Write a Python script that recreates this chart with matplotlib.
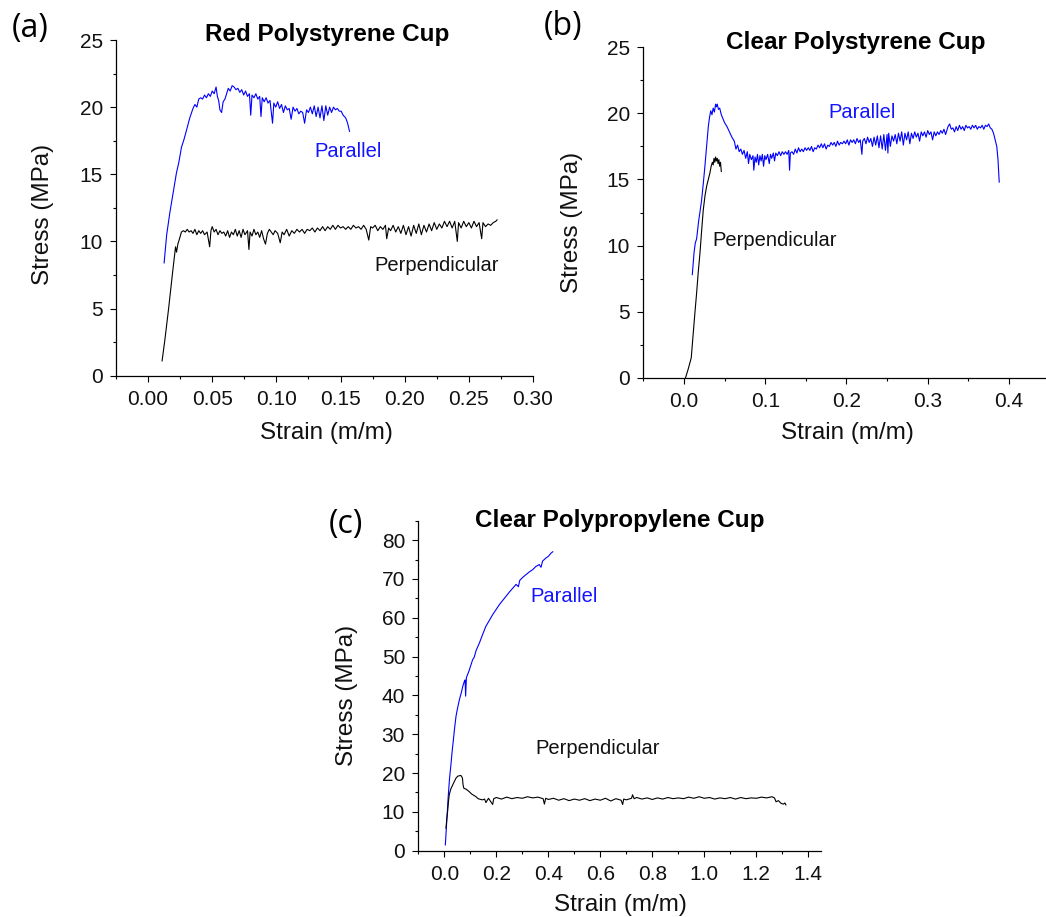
import matplotlib
matplotlib.use("Agg")
import matplotlib.pyplot as plt
from matplotlib.ticker import MultipleLocator, FormatStrFormatter

plt.rcParams['font.family'] = ['Liberation Sans', 'DejaVu Sans']

# ---------------- data ----------------
# (a) Red Polystyrene Cup
a_par_strain = [0.0125,0.0145,0.0169,0.0195,0.0221,0.0240,0.0260,0.0280,0.0300,0.0325,0.0350,0.0365,0.0380,0.0395,
                0.0410,0.0425,0.0440,0.0455,0.0470,0.0485,0.0500,0.0515,0.0530,0.0540,0.0550,0.0560,0.0573,0.0585,
                0.0599,0.0612,0.0625,0.0640,0.0655,0.0670,0.0685,0.0700,0.0715,0.0730,0.0745,0.0760,0.0775,0.0790,
                0.0800,0.0810,0.0825,0.0840,0.0855,0.0870,0.0880,0.0890,0.0905,0.0920,0.0935,0.0950,0.0970,0.0980,
                0.0995,0.1010,0.1025,0.1040,0.1055,0.1070,0.1085,0.1100,0.1115,0.1130,0.1145,0.1160,0.1175,0.1190,
                0.1205,0.1220,0.1235,0.1250,0.1265,0.1280,0.1295,0.1310,0.1325,0.1340,0.1355,0.1370,0.1385,0.1400,
                0.1415,0.1430,0.1445,0.1460,0.1475,0.1490,0.1505,0.1520,0.1540,0.1555,0.1570]
a_par_stress = [8.4,10.5,12.1,13.6,15.1,15.9,17.0,17.6,18.3,19.2,19.9,20.2,20.0,20.6,
                20.7,20.6,20.9,20.7,21.0,20.8,21.2,21.0,21.5,20.8,20.5,19.8,19.6,20.4,
                20.6,21.0,21.4,21.2,21.6,21.5,21.3,21.4,21.1,21.3,20.9,21.2,20.8,21.0,
                19.4,20.9,20.7,21.0,20.6,20.8,19.3,20.7,20.4,20.7,20.3,20.5,18.8,20.3,
                20.0,20.4,19.9,20.2,19.6,20.1,19.8,19.9,19.1,20.0,19.7,19.9,19.5,19.7,
                19.6,18.8,19.8,19.6,20.0,19.5,20.1,19.3,20.0,19.2,20.1,19.0,20.1,19.4,
                20.0,19.6,20.0,19.8,19.9,19.7,19.7,19.4,19.2,18.8,18.2]

a_perp_strain = [0.0109,0.0130,0.0160,0.0190,0.0214,0.0222,0.0232,0.0245,0.0260,0.0275,0.0290,0.0305,0.0320,0.0335,
                 0.0350,0.0365,0.0380,0.0395,0.0410,0.0425,0.0440,0.0460,0.0480,0.0490,0.0500,0.0515,0.0530,0.0545,
                 0.0560,0.0575,0.0590,0.0605,0.0620,0.0635,0.0650,0.0665,0.0680,0.0695,0.0710,0.0725,0.0740,0.0755,
                 0.0775,0.0786,0.0795,0.0810,0.0825,0.0840,0.0855,0.0870,0.0885,0.0900,0.0915,0.0930,0.0945,0.0960,
                 0.0975,0.0990,0.1010,0.1030,0.1045,0.1060,0.1080,0.1100,0.1120,0.1140,0.1160,0.1180,0.1200,0.1220,
                 0.1240,0.1260,0.1280,0.1300,0.1320,0.1340,0.1360,0.1380,0.1400,0.1420,0.1440,0.1460,0.1480,0.1500,
                 0.1520,0.1540,0.1560,0.1580,0.1600,0.1620,0.1640,0.1660,0.1680,0.1700,0.1720,0.1735,0.1750,0.1770,
                 0.1790,0.1810,0.1830,0.1850,0.1860,0.1875,0.1890,0.1910,0.1930,0.1950,0.1970,0.1990,0.2010,0.2030,
                 0.2050,0.2070,0.2090,0.2110,0.2130,0.2150,0.2170,0.2190,0.2210,0.2230,0.2250,0.2270,0.2290,0.2310,
                 0.2330,0.2350,0.2370,0.2390,0.2410,0.2420,0.2440,0.2460,0.2480,0.2500,0.2520,0.2540,0.2560,0.2580,
                 0.2600,0.2610,0.2630,0.2650,0.2670,0.2690,0.2710,0.2720]
a_perp_stress = [1.1,2.6,5.0,7.6,9.6,9.2,9.8,10.2,10.7,10.8,10.7,10.9,10.7,10.8,
                 10.6,10.9,10.5,10.8,10.6,10.8,10.5,10.7,9.6,10.8,11.1,10.7,10.9,10.5,
                 10.8,10.6,10.7,10.4,10.8,10.3,10.7,10.5,10.9,10.4,10.8,10.3,10.9,10.5,
                 10.8,9.4,10.7,10.4,10.9,10.5,10.7,10.3,10.8,10.2,9.8,10.6,10.9,10.7,
                 10.5,10.8,10.6,9.9,10.7,10.5,10.9,10.4,10.8,10.6,10.9,10.7,10.9,10.6,
                 10.9,10.8,11.0,10.7,11.0,10.8,11.1,10.8,11.1,10.9,11.2,10.9,11.2,11.0,
                 11.1,10.9,11.1,10.9,11.2,11.0,11.1,10.9,11.2,10.9,10.1,11.1,11.0,11.2,
                 10.8,11.1,10.9,11.2,10.2,11.0,10.8,11.2,10.7,11.1,10.6,11.2,10.5,11.1,
                 10.4,11.2,10.6,11.3,10.5,11.2,10.7,11.3,10.8,11.4,10.9,11.3,11.0,11.5,
                 11.1,11.5,11.0,11.5,10.0,11.4,11.0,11.5,11.1,11.4,11.0,11.5,11.1,11.4,
                 10.2,11.4,11.1,11.3,11.2,11.4,11.5,11.6]

# (b) Clear Polystyrene Cup
b_par_strain = [0.0103,0.0125,0.0140,0.0156,0.0180,0.0217,0.0240,0.0258,0.0280,0.0300,0.0315,0.0330,0.0345,0.0360,
                0.0375,0.0390,0.0400,0.0410,0.0425,0.0440,0.0460,0.0480,0.0500,0.0530,0.0560,0.0590,0.0620,0.0640,
                0.0660,0.0680,0.0700,0.0720,0.0740,0.0760,0.0780,0.0795,0.0810,0.0830,0.0850,0.0860,0.0875,0.0890,
                0.0905,0.0920,0.0935,0.0950,0.0965,0.0980,0.0995,0.1010,0.1030,0.1050,0.1065,0.1080,0.1100,0.1115,
                0.1130,0.1150,0.1170,0.1190,0.1210,0.1230,0.1250,0.1270,0.1290,0.1300,0.1310,0.1330,0.1350,0.1370,
                0.1390,0.1410,0.1430,0.1450,0.1470,0.1490,0.1510,0.1530,0.1550,0.1570,0.1590,0.1610,0.1630,0.1650,
                0.1670,0.1690,0.1710,0.1730,0.1750,0.1770,0.1790,0.1810,0.1830,0.1850,0.1870,0.1890,0.1910,0.1930,
                0.1950,0.1970,0.1990,0.2010,0.2030,0.2050,0.2070,0.2090,0.2110,0.2130,0.2150,0.2170,0.2190,0.2200,
                0.2220,0.2240,0.2260,0.2280,0.2300,0.2320,0.2340,0.2360,0.2380,0.2400,0.2420,0.2440,0.2460,0.2480,
                0.2500,0.2510,0.2520,0.2540,0.2560,0.2580,0.2600,0.2620,0.2640,0.2660,0.2680,0.2700,0.2720,0.2740,
                0.2760,0.2780,0.2800,0.2820,0.2840,0.2860,0.2880,0.2900,0.2920,0.2940,0.2960,0.2980,0.3000,0.3020,
                0.3040,0.3060,0.3080,0.3100,0.3120,0.3140,0.3160,0.3180,0.3200,0.3220,0.3250,0.3270,0.3290,0.3310,
                0.3330,0.3350,0.3370,0.3390,0.3410,0.3430,0.3450,0.3470,0.3490,0.3510,0.3530,0.3550,0.3570,0.3590,
                0.3610,0.3630,0.3650,0.3670,0.3690,0.3710,0.3730,0.3750,0.3770,0.3790,0.3810,0.3830,0.3850,0.3865,
                0.3880]
b_par_stress = [7.8,9.5,10.2,10.5,11.8,13.4,14.8,16.0,17.6,19.0,19.7,20.2,19.9,20.4,
                20.1,20.7,20.5,20.7,20.3,20.4,19.9,19.6,19.3,19.0,18.6,18.2,17.9,17.3,
                17.6,17.1,17.3,16.9,17.2,16.6,17.1,16.2,16.9,16.5,16.8,15.7,16.7,16.3,
                16.9,16.1,16.8,16.4,16.9,16.0,16.8,16.5,16.9,16.2,16.9,16.6,17.0,16.4,
                17.0,16.8,17.1,16.8,17.1,16.9,17.1,16.9,17.2,15.7,17.0,17.1,16.9,17.3,
                17.0,17.4,17.1,17.3,17.1,17.4,17.2,17.4,17.2,17.5,17.1,17.4,17.3,17.6,
                17.4,17.7,17.4,17.7,17.3,17.6,17.5,17.8,17.6,17.8,17.5,17.9,17.6,17.8,
                17.7,17.9,17.7,18.0,17.6,18.0,17.8,18.0,17.7,18.1,17.8,18.0,16.9,17.9,
                18.1,17.7,18.2,17.8,18.1,17.5,18.2,17.6,18.3,17.4,18.3,17.3,18.4,17.2,
                18.4,17.0,18.5,17.5,18.3,17.9,18.4,17.7,18.5,17.9,18.6,17.6,18.5,18.0,
                18.6,17.7,18.5,18.1,18.6,18.2,18.5,17.9,18.6,18.3,18.6,18.2,18.7,18.4,
                18.6,18.0,18.6,18.3,18.6,18.4,18.7,18.5,18.8,18.4,19.0,19.2,18.8,18.9,
                18.6,19.0,18.7,19.1,18.8,19.0,18.7,19.1,18.9,19.0,18.8,19.1,18.9,19.1,
                18.8,19.0,18.9,19.1,18.8,19.1,19.0,19.2,18.9,18.8,18.5,18.0,17.5,16.5,
                14.8]

b_perp_strain = [0.0020,0.0050,0.0090,0.0115,0.0135,0.0156,0.0175,0.0197,0.0220,0.0238,0.0260,0.0280,0.0300,
                 0.0320,0.0335,0.0350,0.0360,0.0370,0.0380,0.0390,0.0400,0.0410,0.0420,0.0430,0.0440,0.0450,0.0460]
b_perp_stress = [0.0,0.6,1.5,3.4,4.9,6.4,7.9,9.4,11.3,12.7,13.8,14.5,15.0,
                 15.5,16.0,16.3,16.1,16.6,16.3,16.7,16.4,16.6,16.2,16.5,16.0,16.3,15.6]

# (c) Clear Polypropylene Cup
c_par_strain = [0.004,0.009,0.015,0.020,0.026,0.030,0.035,0.040,0.045,0.050,0.058,0.065,0.071,0.077,0.080,
                0.082,0.085,0.095,0.109,0.115,0.122,0.135,0.148,0.160,0.173,0.186,0.199,0.212,0.225,0.237,
                0.250,0.263,0.276,0.285,0.290,0.300,0.314,0.327,0.340,0.352,0.365,0.372,0.378,0.391,0.400,
                0.410,0.417]
c_par_stress = [1.5,7.1,13.9,18.5,22.5,25.5,28.6,31.8,34.6,36.4,38.9,40.6,42.3,43.6,44.0,
                39.8,44.6,46.3,49.2,49.8,51.5,53.5,55.8,57.8,59.3,60.8,62.1,63.4,64.5,65.5,
                66.6,67.6,68.6,68.0,69.6,70.3,71.1,71.8,72.4,73.2,73.7,73.0,74.6,75.4,75.8,
                76.6,77.0]

c_perp_strain = [0.0064,0.0100,0.0128,0.0160,0.0190,0.0250,0.0320,0.0400,0.0450,0.0520,0.0580,0.0630,0.0670,
                 0.0700,0.0720,0.0750,0.0850,0.0960,0.1050,0.1150,0.1220,0.1300,0.1400,0.1470,0.1550,0.1600,
                 0.170,0.186,0.190,0.20,0.22,0.24,0.26,0.28,0.30,0.32,0.34,0.36,0.38,0.385,0.39,
                 0.40,0.42,0.44,0.46,0.48,0.50,0.52,0.54,0.56,0.58,0.60,0.62,0.64,0.66,0.68,0.686,0.69,
                 0.70,0.72,0.724,0.73,0.74,0.76,0.78,0.80,0.82,0.84,0.86,0.88,0.90,0.92,0.94,0.96,0.98,
                 1.00,1.02,1.04,1.06,1.08,1.10,1.12,1.14,1.16,1.18,1.20,1.22,1.24,1.26,
                 1.270,1.276,1.285,1.295,1.305,1.310,1.314]
c_perp_stress = [5.8,8.5,10.1,12.6,14.4,15.9,16.9,18.0,18.7,19.2,19.3,19.4,19.1,
                 18.6,17.0,16.1,15.8,15.2,14.6,14.2,13.9,13.4,13.2,13.1,13.3,12.4,
                 13.5,11.9,13.4,13.7,13.3,13.8,13.4,13.7,13.5,13.9,13.6,13.8,13.4,12.0,13.5,
                 13.2,13.5,13.0,13.4,12.9,13.3,13.0,13.4,12.9,13.3,13.0,13.5,12.8,13.4,13.0,11.9,13.3,
                 13.1,13.5,14.4,13.4,13.7,13.3,13.6,13.2,13.6,13.3,13.7,13.4,13.6,13.4,13.8,13.5,13.9,
                 13.5,13.7,13.3,13.6,13.4,13.7,13.3,13.7,13.4,13.6,13.5,13.8,13.6,13.9,
                 13.6,12.6,12.9,12.2,12.0,12.3,11.8]

titles = ["Red Polystyrene Cup", "Clear Polystyrene Cup", "Clear Polypropylene Cup"]
panel_labels = ["(a)", "(b)", "(c)"]
xlabel = "Strain (m/m)"
ylabel = "Stress (MPa)"

# ---------------- figure ----------------
W, H = 1046, 917
fig = plt.figure(figsize=(W / 100, H / 100), dpi=100)

BLUE = '#0000ff'
TXT_BLUE = '#1414ff'
TXT = '#111111'

def px_axes(left, top, right, bottom):
    return fig.add_axes([left / W, 1 - bottom / H, (right - left) / W, (bottom - top) / H])

def style(ax, xmaj, xmin, ymaj, ymin, fmt):
    for s in ['top', 'right']:
        ax.spines[s].set_visible(False)
    for s in ['left', 'bottom']:
        ax.spines[s].set_linewidth(0.9)
    ax.xaxis.set_major_locator(MultipleLocator(xmaj))
    ax.xaxis.set_minor_locator(MultipleLocator(xmin))
    ax.yaxis.set_major_locator(MultipleLocator(ymaj))
    ax.yaxis.set_minor_locator(MultipleLocator(ymin))
    ax.xaxis.set_major_formatter(FormatStrFormatter(fmt))
    ax.tick_params(which='major', direction='out', length=4.5, width=0.8, labelsize=15,
                   colors='black', labelcolor=TXT, pad=5)
    ax.tick_params(which='minor', direction='out', length=2.5, width=0.8)
    ax.tick_params(axis='x', which='major', pad=6)

# panel (a)
axa = px_axes(116, 40, 533, 375.7)
axa.plot(a_par_strain, a_par_stress, color=BLUE, lw=0.8)
axa.plot(a_perp_strain, a_perp_stress, color='black', lw=0.8)
axa.set_xlim(-0.025, 0.30)
axa.set_ylim(0, 25)
style(axa, 0.05, 0.025, 5, 2.5, '%.2f')
axa.text(0.156, 16.7, "Parallel", color=TXT_BLUE, fontsize=14.5, ha='center', va='center')
axa.text(0.225, 8.24, "Perpendicular", color=TXT, fontsize=14.5, ha='center', va='center')

# panel (b)
axb = px_axes(643.3, 47.3, 1049.6, 377.7)
axb.plot(b_par_strain, b_par_stress, color=BLUE, lw=0.8)
axb.plot(b_perp_strain, b_perp_stress, color='black', lw=0.8)
axb.set_xlim(-0.05, 0.45)
axb.set_ylim(0, 25)
style(axb, 0.1, 0.05, 5, 2.5, '%.1f')
axb.text(0.2187, 20.1, "Parallel", color=TXT_BLUE, fontsize=14.5, ha='center', va='center')
axb.text(0.112, 10.4, "Perpendicular", color=TXT, fontsize=14.5, ha='center', va='center')

# panel (c)
axc = px_axes(418.3, 520.7, 821.3, 850.7)
axc.plot(c_par_strain, c_par_stress, color=BLUE, lw=0.8)
axc.plot(c_perp_strain, c_perp_stress, color='black', lw=0.8)
axc.set_xlim(-0.1, 1.45)
axc.set_ylim(0, 85)
style(axc, 0.2, 0.1, 10, 5, '%.1f')
axc.text(0.4615, 65.5, "Parallel", color=TXT_BLUE, fontsize=14.5, ha='center', va='center')
axc.text(0.591, 26.4, "Perpendicular", color=TXT, fontsize=14.5, ha='center', va='center')

# texts in figure pixel coordinates
def ftext(x, y, s, **kw):
    fig.text(x / W, 1 - y / H, s, ha='center', va='center', **kw)

ftext(327, 34, titles[0], fontsize=17.5, fontweight='bold')
ftext(856, 42, titles[1], fontsize=17.5, fontweight='bold')
ftext(620, 520, titles[2], fontsize=17.5, fontweight='bold')

ftext(43, 214, ylabel, fontsize=17.5, rotation=90, color=TXT)
ftext(572, 222, ylabel, fontsize=17.5, rotation=90, color=TXT)
ftext(347, 695, ylabel, fontsize=17.5, rotation=90, color=TXT)

ftext(326, 433, xlabel, fontsize=17.5, color=TXT)
ftext(847, 433, xlabel, fontsize=17.5, color=TXT)
ftext(620, 905, xlabel, fontsize=17.5, color=TXT)

for (x, y), s in zip([(30, 28), (563, 27), (346, 525)], panel_labels):
    ftext(x, y, s, fontsize=23, family=['Open Sans', 'DejaVu Sans'])

fig.savefig("out.png", dpi=100)
